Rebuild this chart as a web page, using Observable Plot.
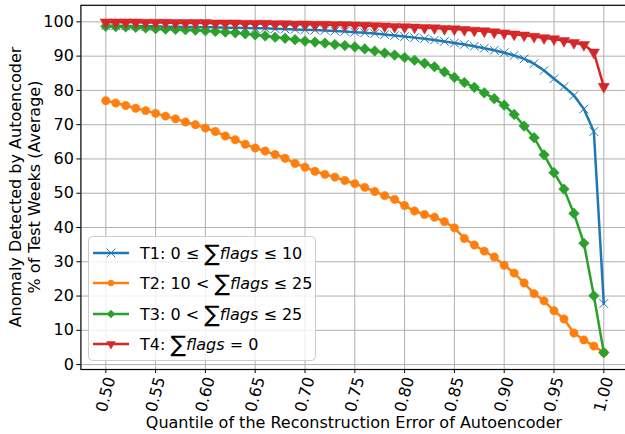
<!DOCTYPE html>
<html>
<head>
<meta charset="utf-8">
<script src="https://cdn.jsdelivr.net/npm/d3@7"></script>
<script src="https://cdn.jsdelivr.net/npm/@observablehq/plot@0.6"></script>
<style>
  html, body { margin: 0; padding: 0; background: #fff; overflow: hidden; }
  #chart svg { display: block; overflow: hidden; }
</style>
</head>
<body>
<div id="chart"></div>
<script>
const quantiles = [0.50,0.51,0.52,0.53,0.54,0.55,0.56,0.57,0.58,0.59,0.60,0.61,0.62,0.63,0.64,0.65,0.66,0.67,0.68,0.69,0.70,0.71,0.72,0.73,0.74,0.75,0.76,0.77,0.78,0.79,0.80,0.81,0.82,0.83,0.84,0.85,0.86,0.87,0.88,0.89,0.90,0.91,0.92,0.93,0.94,0.95,0.96,0.97,0.98,0.99,1.00];

const t1 = [98.9,98.9,98.8,98.8,98.7,98.7,98.6,98.6,98.5,98.5,98.4,98.4,98.3,98.3,98.2,98.1,98.1,98.0,97.9,97.8,97.7,97.6,97.5,97.3,97.2,97.0,96.8,96.6,96.3,96.0,95.7,95.4,95.1,94.7,94.3,93.8,93.4,92.9,92.3,91.7,91.0,90.2,89.2,87.8,85.8,83.4,81.1,78.5,74.6,68.0,17.8];
const t2 = [77.0,76.3,75.6,74.8,74.1,73.3,72.5,71.7,70.8,70.0,69.0,68.0,66.7,65.6,64.3,63.2,62.3,61.3,60.2,58.7,57.6,56.4,55.5,54.7,53.7,52.8,51.7,50.5,49.3,48.2,46.4,44.8,43.8,43.0,41.7,39.9,36.8,34.9,33.1,31.4,29.0,26.7,23.8,20.7,18.6,15.7,13.3,9.2,7.2,5.4,3.5];
const t3 = [98.7,98.6,98.5,98.4,98.2,98.0,97.9,97.8,97.7,97.6,97.4,97.2,97.0,96.8,96.5,96.2,95.9,95.5,95.2,94.8,94.4,94.1,93.8,93.4,93.1,92.7,92.1,91.5,90.9,90.3,89.6,88.8,87.9,86.9,85.4,83.8,82.3,80.9,79.3,77.6,75.7,73.0,69.6,66.2,61.2,56.0,51.2,44.1,35.4,20.1,3.5];
const t4 = [99.9,99.9,99.9,99.9,99.8,99.8,99.8,99.7,99.7,99.7,99.7,99.6,99.6,99.6,99.5,99.5,99.5,99.4,99.4,99.3,99.3,99.2,99.2,99.1,99.1,99.0,98.9,98.8,98.7,98.6,98.5,98.4,98.3,98.2,98.0,97.9,97.7,97.5,97.3,97.0,96.7,96.4,96.1,95.7,95.3,95.0,94.5,93.9,93.3,91.1,81.1];

const xTicks = [0.50,0.55,0.60,0.65,0.70,0.75,0.80,0.85,0.90,0.95,1.00];
const xTickLabels = ["0.50","0.55","0.60","0.65","0.70","0.75","0.80","0.85","0.90","0.95","1.00"];
const yTicks = [0,10,20,30,40,50,60,70,80,90,100];

const seriesNames = ["T1","T2","T3","T4"];
const seriesColors = ["#1f77b4","#ff7f0e","#2ca02c","#d62728"];
const legendPrefix = ["T1: 0 ≤ ","T2: 10 < ","T3: 0 < ","T4: "];
const legendSuffix = [" ≤ 10"," ≤ 25"," ≤ 25"," = 0"];

const rows = (vals) => quantiles.map((q, i) => ({q, v: vals[i]}));
const d1 = rows(t1), d2 = rows(t2), d3r = rows(t3), d4 = rows(t4);
const tickRows = xTicks.map((t, i) => ({t, label: xTickLabels[i]}));

const font = "DejaVu Sans, sans-serif";
const lw = 2.5;

const chart = Plot.plot({
  width: 625,
  height: 434,
  marginLeft: 80.4,
  marginRight: -3.2,
  marginTop: 4.8,
  marginBottom: 65,
  style: {fontFamily: font, fontSize: "16px", color: "#000", background: "#fff"},
  x: {domain: [0.475, 1.025]},
  y: {domain: [-1.43, 104.83]},
  marks: [
    Plot.gridX(xTicks, {stroke: "#b0b0b0", strokeOpacity: 1, strokeWidth: 1}),
    Plot.gridY(yTicks, {stroke: "#b0b0b0", strokeOpacity: 1, strokeWidth: 1}),
    Plot.line(d1, {x: "q", y: "v", stroke: seriesColors[0], strokeWidth: lw}),
    Plot.dot(d1, {x: "q", y: "v", symbol: "times", r: 4, stroke: seriesColors[0], strokeWidth: 1, fill: "none"}),
    Plot.line(d2, {x: "q", y: "v", stroke: seriesColors[1], strokeWidth: lw}),
    Plot.dot(d2, {x: "q", y: "v", symbol: "circle", r: 4.2, fill: seriesColors[1], stroke: seriesColors[1], strokeWidth: 0.5}),
    Plot.line(d3r, {x: "q", y: "v", stroke: seriesColors[2], strokeWidth: lw}),
    Plot.dot(d3r, {x: "q", y: "v", symbol: "diamond2", r: 4.8, fill: seriesColors[2], stroke: seriesColors[2], strokeWidth: 0.5}),
    Plot.line(d4, {x: "q", y: "v", stroke: seriesColors[3], strokeWidth: lw}),
    Plot.dot(d4, {x: "q", y: "v", symbol: "triangle2", rotate: 180, r: 5.4, fill: seriesColors[3], stroke: seriesColors[3], strokeWidth: 0.5}),
    Plot.frame({stroke: "#000", strokeWidth: 1.2}),
    Plot.axisY({ticks: yTicks, tickSize: 4, tickPadding: 3, label: null, fontSize: 16, tickFormat: d => String(d)}),
    Plot.axisX({ticks: xTicks, tickSize: 4, label: null, tickFormat: () => ""}),
    Plot.text(tickRows, {x: "t", text: "label", frameAnchor: "bottom", dy: 25, rotate: -75, textAnchor: "middle", lineAnchor: "middle", fontSize: 16, fill: "#000"})
  ]
});

const svg = d3.select(chart);

// axis titles
svg.append("text")
  .attr("x", 354).attr("y", 428)
  .attr("text-anchor", "middle")
  .attr("font-family", font).attr("font-size", 16).attr("fill", "#000")
  .text("Quantile of the Reconstruction Error of Autoencoder");

const yt = svg.append("text")
  .attr("transform", "translate(0,187) rotate(-90)")
  .attr("text-anchor", "middle")
  .attr("font-family", font).attr("font-size", 16).attr("fill", "#000");
yt.append("tspan").attr("x", 0).attr("y", 21).text("Anomaly Detected by Autoencoder");
yt.append("tspan").attr("x", 0).attr("y", 40).text("% of Test Weeks (Average)");

// legend
const lg = svg.append("g").attr("text-anchor", "start");
lg.append("rect")
  .attr("x", 88.5).attr("y", 236.5).attr("width", 227).attr("height", 124)
  .attr("rx", 4).attr("fill", "#fff").attr("fill-opacity", 0.8)
  .attr("stroke", "#cccccc").attr("stroke-width", 1);

const rowY = [253, 283, 314, 344];
const sym = {
  T1: d3.symbol(d3.symbolTimes, Math.PI * 4 * 4),
  T2: d3.symbol(d3.symbolCircle, Math.PI * 3 * 3),
  T3: d3.symbol(d3.symbolDiamond2, Math.PI * 3.6 * 3.6),
  T4: d3.symbol(d3.symbolTriangle2, Math.PI * 4.2 * 4.2)
};
seriesNames.forEach((name, i) => {
  const y = rowY[i];
  const c = seriesColors[i];
  lg.append("line").attr("x1", 93).attr("x2", 129).attr("y1", y).attr("y2", y)
    .attr("stroke", c).attr("stroke-width", lw);
  const p = lg.append("path").attr("d", sym[name]())
    .attr("transform", `translate(111,${y})` + (name === "T4" ? " rotate(180)" : ""));
  if (name === "T1") p.attr("fill", "none").attr("stroke", c).attr("stroke-width", 1);
  else p.attr("fill", c).attr("stroke", c).attr("stroke-width", 0.5);
  const t = lg.append("text").attr("x", 140).attr("y", y + 6)
    .attr("text-anchor", "start")
    .attr("font-family", font).attr("font-size", 16).attr("fill", "#000");
  t.append("tspan").text(legendPrefix[i]);
  t.append("tspan").attr("font-size", 23).attr("dy", 2).text("∑");
  t.append("tspan").attr("font-style", "italic").attr("dy", -2).text("flags");
  t.append("tspan").text(legendSuffix[i]);
});

document.getElementById("chart").appendChild(chart);
</script>
</body>
</html>
